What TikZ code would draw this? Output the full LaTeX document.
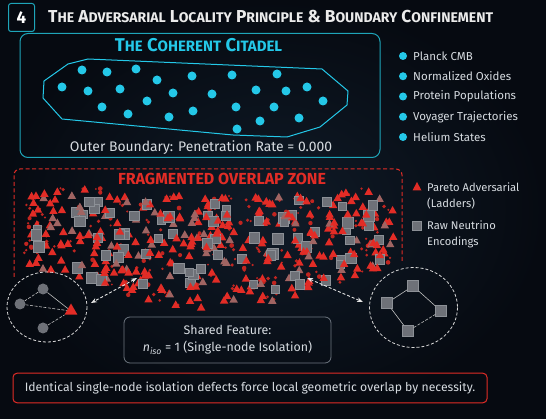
\documentclass[tikz,border=0pt]{standalone}
\usepackage{fontspec}
\setmainfont{Fira Sans}
\usetikzlibrary{arrows.meta,positioning,shapes.geometric}

\definecolor{bgin}{RGB}{16,27,40}
\definecolor{bgout}{RGB}{6,10,17}
\definecolor{citteal}{RGB}{30,165,185}
\definecolor{citcyan}{RGB}{36,200,232}
\definecolor{softtext}{RGB}{214,219,224}
\definecolor{advred}{RGB}{226,44,38}
\definecolor{advmute}{RGB}{160,100,98}
\definecolor{neugray}{RGB}{110,113,120}
\definecolor{neuedge}{RGB}{140,144,150}
\definecolor{boxgray}{RGB}{110,118,128}

% small caps made by hand
\newcommand\tsc[3][12.5]{#2{\fontsize{#1}{#1}\selectfont #3}}

\tikzset{
  numbox/.style={draw=citteal, line width=1pt, rounded corners=2.5pt,
    minimum width=26pt, minimum height=28pt, inner sep=0pt,
    text=white, font=\fontsize{17}{17}\selectfont\bfseries},
  citbox/.style={draw=citteal, line width=1pt, rounded corners=8pt,
    minimum width=360pt, minimum height=124pt},
  cdot/.style={fill=citcyan},
  plain/.style={text=softtext, font=\fontsize{11.5}{15}\selectfont, inner sep=0pt},
  zoneline/.style={draw=advred, line width=1pt, dash pattern=on 4pt off 2.5pt},
  ringline/.style={draw=white!85!black, line width=0.8pt, dash pattern=on 3pt off 2pt},
  gnode/.style={circle, fill=neugray, minimum size=11pt, inner sep=0pt},
  trinode/.style={regular polygon, regular polygon sides=3, fill=advred,
    minimum size=15pt, inner sep=0pt},
  sqnode/.style={rectangle, fill=neugray, draw=neuedge, line width=0.5pt,
    minimum size=11pt, inner sep=0pt},
  linkarrow/.style={{Stealth[length=6pt]}-{Stealth[length=6pt]}, draw=white!90!black,
    line width=0.9pt, dash pattern=on 3pt off 2pt},
  sharebox/.style={draw=boxgray, line width=0.8pt, rounded corners=6pt,
    minimum width=207pt, minimum height=46pt, align=center, text=softtext,
    font=\fontsize{12.4}{17}\selectfont},
  banner/.style={draw=advred, line width=1pt, rounded corners=4pt,
    minimum width=474pt, minimum height=29.5pt, text=softtext,
    font=\fontsize{12.2}{14}\selectfont}
}

\begin{document}
\begin{tikzpicture}[x=1pt,y=-1pt]
\useasboundingbox (0,0) rectangle (546,419);
\shade[inner color=bgin, outer color=bgout] (0,0) rectangle (546,419);

% heading
\node[numbox] (num) at (21.5,17.5) {4};
\node[anchor=base west, text=white!92!black, inner sep=0pt,
  font=\fontsize{17.3}{18}\selectfont\bfseries] (title) at (48,23)
  {\tsc[14]{T}{HE} \tsc[14]{A}{DVERSARIAL} \tsc[14]{L}{OCALITY} \tsc[14]{P}{RINCIPLE} \& \tsc[14]{B}{OUNDARY} \tsc[14]{C}{ONFINEMENT}};

% coherent citadel
\node[citbox] (citadel) at (200,95.5) {};
\node[anchor=base, text=citcyan, inner sep=0pt, font=\fontsize{18.5}{19}\selectfont\bfseries]
  (cittitle) at (198.5,52) {\tsc[15]{T}{HE} \tsc[15]{C}{OHERENT} \tsc[15]{C}{ITADEL}};
\draw[draw=citcyan, line width=1pt] (68,64) -- (88,59) -- (322,69) -- (348,91) -- (347,105)
  -- (320,127) -- (287,137) -- (233,135) -- (62,119) -- (43,98) -- (44,81) -- cycle;
\foreach \p in {(82,70),(107,72),(136,69),(157,80),(192,76),(232,75),(277,74),
  (62,87),(88,91),(120,89),(173,93),(212,94),(256,90),(286,91),(307,87),(323,101),
  (102,107),(147,101),(128,114),(169,117),(193,111),(236,107),(274,107),(260,121),
  (299,118),(237,129)}
  \fill[cdot] \p circle (4.5);
\node[plain, anchor=base, font=\fontsize{13.9}{15}\selectfont] (outer) at (201,151.5)
  {Outer Boundary: Penetration Rate = 0.000};

% citadel legend
\foreach \t [count=\k] in {Planck CMB,Normalized Oxides,Protein Populations,Voyager Trajectories,Helium States}{
  \fill[cdot] (403,{56+20.25*(\k-1)}) circle (4);
  \node[plain, anchor=west] (cleg\k) at (413,{56+20.25*(\k-1)}) {\t};
}

% fragmented overlap zone
\draw[zoneline, rounded corners=6pt] (14,277) -- (14,169) -- (402,169) -- (402,262);
\node[anchor=base, text=advred, inner sep=0pt, font=\fontsize{16}{16}\selectfont\bfseries]
  (zonetitle) at (222,184.5) {FRAGMENTED OVERLAP ZONE};

\pgfmathsetseed{11}
\foreach \i in {1,...,190}{
  \pgfmathsetmacro\px{24+370*rnd}
  \pgfmathsetmacro\pt{(\px<105 || \px>340) ? 188 : 196}
  \pgfmathsetmacro\pb{262+46*sin(0.4865*(\px-24))}
  \pgfmathsetmacro\py{\pt+(\pb-\pt)*rnd}
  \pgfmathsetmacro\pr{1+1.4*rnd}
  \fill[advred!85!black] (\px,\py) circle (\pr);
}
\foreach \i in {1,...,150}{
  \pgfmathsetmacro\px{24+370*rnd}
  \pgfmathsetmacro\pt{(\px<105 || \px>340) ? 188 : 196}
  \pgfmathsetmacro\pb{262+46*sin(0.4865*(\px-24))}
  \pgfmathsetmacro\py{\pt+(\pb-\pt)*rnd}
  \pgfmathtruncatemacro\kind{5*rnd}
  \ifnum\kind=4 \def\tc{advmute}\else\def\tc{advred}\fi
  \fill[\tc] (\px,\py-4.5) -- (\px+4.2,\py+3) -- (\px-4.2,\py+3) -- cycle;
}
\foreach \i in {1,...,72}{
  \pgfmathsetmacro\px{34+350*rnd}
  \pgfmathsetmacro\pb{258+46*sin(0.5143*(\px-34))}
  \pgfmathsetmacro\py{198+(\pb-198)*rnd}
  \pgfmathsetmacro\ps{3.8+1.6*rnd}
  \filldraw[fill=neugray, draw=neuedge, line width=0.4pt] (\px-\ps,\py-\ps) rectangle (\px+\ps,\py+\ps);
}
\foreach \i in {1,...,150}{
  \pgfmathsetmacro\px{24+370*rnd}
  \pgfmathsetmacro\pt{(\px<105 || \px>340) ? 188 : 196}
  \pgfmathsetmacro\pb{262+46*sin(0.4865*(\px-24))}
  \pgfmathsetmacro\py{\pt+(\pb-\pt)*rnd}
  \pgfmathtruncatemacro\kind{5*rnd}
  \ifnum\kind=4 \def\tc{advmute}\else\def\tc{advred}\fi
  \fill[\tc] (\px,\py-4.5) -- (\px+4.2,\py+3) -- (\px-4.2,\py+3) -- cycle;
}

% zone legend
\fill[advred] (417,182) -- (421.5,190.5) -- (412.5,190.5) -- cycle;
\node[plain, anchor=west, align=left, font=\fontsize{11.2}{16}\selectfont] (advleg) at (427,196)
  {Pareto Adversarial\\(Ladders)};
\filldraw[fill=neugray, draw=neuedge, line width=0.4pt] (412.5,221.5) rectangle (421.5,230.5);
\node[plain, anchor=west, align=left, font=\fontsize{11.2}{16}\selectfont] (neuleg) at (427,234)
  {Raw Neutrino\\Encodings};

% left isolation ring
\draw[ringline] (47,307) ellipse (40 and 35);
\node[gnode] (ga) at (43,289) {};
\node[gnode] (gb) at (20,304) {};
\node[gnode] (gc) at (43,328) {};
\node[trinode] (gt) at (71,311) {};
\draw[white!75!black, line width=0.6pt, dash pattern=on 3pt off 1.5pt] (ga) -- (gb);
\draw[white!75!black, line width=0.6pt] (ga) -- (gt);
\draw[white!75!black, line width=0.6pt, dash pattern=on 3pt off 1.5pt] (gb) -- (gt);
\draw[white!75!black, line width=0.6pt, dash pattern=on 3pt off 1.5pt] (gc) -- (gt);

% right isolation ring
\draw[ringline] (413.5,307.5) ellipse (44 and 40);
\node[sqnode] (sa) at (413,286) {};
\node[sqnode] (sb) at (387,303) {};
\node[sqnode] (sc) at (441,311) {};
\node[sqnode] (sd) at (408,331) {};
\draw[white!75!black, line width=0.6pt] (sa) -- (sb);
\draw[white!75!black, line width=0.6pt] (sa) -- (sc);
\draw[white!75!black, line width=0.6pt] (sb) -- (sd);
\draw[white!75!black, line width=0.6pt, dash pattern=on 3pt off 1.5pt] (sd) -- (sc);

% links from the zone to the rings
\coordinate (lzone) at (137,278);
\coordinate (lring) at (91,303);
\coordinate (rzone) at (307,278);
\coordinate (rring) at (363,302);
\draw[linkarrow] (lzone) -- (lring);
\draw[linkarrow] (rzone) -- (rring);

% shared feature
\node[sharebox] (shared) at (227.5,340) {Shared Feature:\\\textit{n}\textsubscript{\textit{iso}} = 1 (Single-node Isolation)};

% closing note
\node[banner] (note) at (250,388) {Identical single-node isolation defects force local geometric overlap by necessity.};
\end{tikzpicture}
\end{document}
